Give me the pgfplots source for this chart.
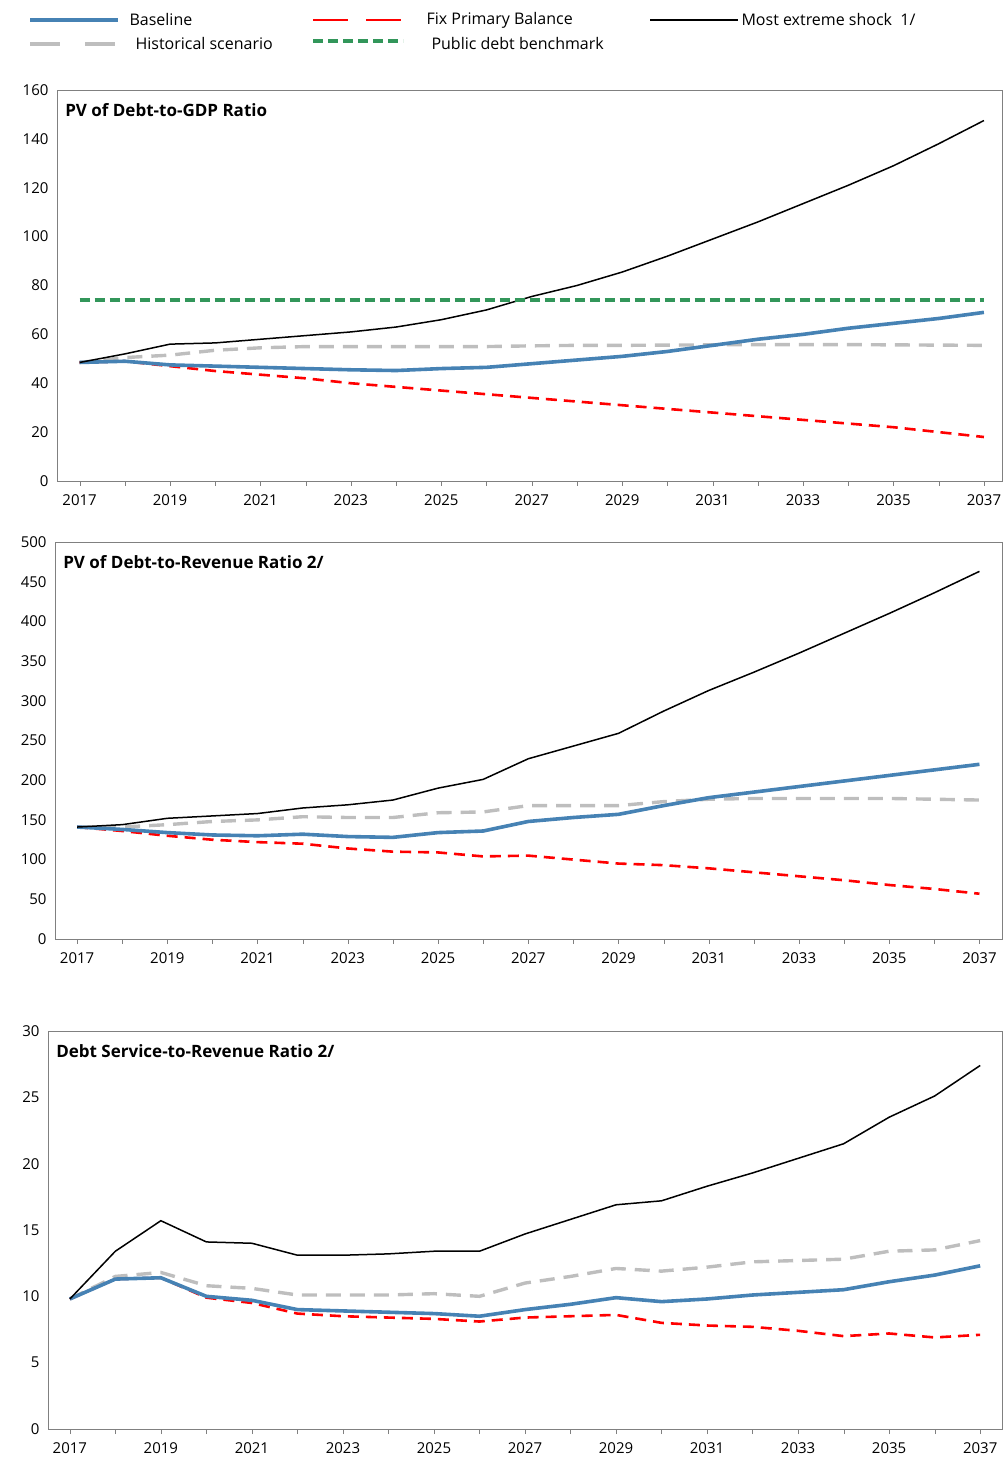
\documentclass[border=0pt]{standalone}
\usepackage{pgfplots}
\pgfplotsset{compat=1.18}
\usepackage{fontspec}
\setmainfont{Open Sans}
\definecolor{base}{RGB}{70,130,180}
\definecolor{fpb}{RGB}{255,0,0}
\definecolor{hist}{RGB}{190,190,190}
\definecolor{bench}{RGB}{50,150,90}
\tikzset{
 bl/.style={base, line width=3.6pt},
 fp/.style={fpb, line width=2.6pt, dash pattern=on 11pt off 7pt},
 hs/.style={hist, line width=3.4pt, dash pattern=on 15pt off 9pt},
 ex/.style={black, line width=1.5pt},
 bm/.style={bench, line width=4.2pt, dash pattern=on 10pt off 5pt},
}
\pgfplotsset{
 every axis/.append style={scale only axis, anchor=south west,
  /pgf/number format/assume math mode=true,
  tick label style={font=\fontsize{15}{17}\selectfont},
  xtick={2017,2019,...,2037}, minor xtick={2018,2020,...,2036},
  x tick label style={/pgf/number format/1000 sep={}, yshift=-5pt},
  tick align=outside, tick pos=left, axis line style={gray}, tick style={gray},
  major tick length=5pt, minor tick length=5pt,
  ytick style={draw=none}, clip=false},
}
\newcommand{\ttl}[1]{\node[anchor=north west, font=\bfseries\fontsize{17}{19}\selectfont] at (rel axis cs:0.005,0.975) {#1};}
\newcommand{\lt}{\fontsize{16}{18}\selectfont}
\begin{document}
\begin{tikzpicture}
\useasboundingbox (0pt,0pt) rectangle (1007pt,1462pt);
% legend
\draw[bl] (30pt,1442pt) -- (118pt,1442pt); \node[anchor=west,font=\lt] at (126pt,1442pt) {Baseline};
\draw[hs, dash pattern=on 30pt off 25pt] (30pt,1418pt) -- (118pt,1418pt); \node[anchor=west,font=\lt] at (132pt,1418pt) {Historical scenario};
\draw[fp, dash pattern=on 35pt off 18pt] (313pt,1442pt) -- (403pt,1442pt); \node[anchor=west,font=\lt] at (423pt,1442pt) {Fix Primary Balance};
\draw[bm] (313pt,1421pt) -- (403pt,1421pt); \node[anchor=west,font=\lt] at (428pt,1418pt) {Public debt benchmark};
\draw[ex] (650pt,1442pt) -- (738pt,1442pt); \node[anchor=west,font=\lt] at (738pt,1442pt) {Most extreme shock~ 1/};

\begin{axis}[at={(57pt,981pt)}, width=945pt, height=391pt, xmin=2016.5, xmax=2037.4, ymin=0, ymax=160, ytick={0,20,...,160}]
\addplot[hs] coordinates {(2017,48.5)(2018,50.5)(2019,51.5)(2020,53.5)(2021,54.5)(2022,55)(2023,55)(2024,55)(2025,55)(2026,55)(2027,55.3)(2028,55.5)(2029,55.5)(2030,55.6)(2031,55.7)(2032,55.8)(2033,55.8)(2034,55.8)(2035,55.7)(2036,55.6)(2037,55.5)};
\addplot[fp] coordinates {(2017,48.5)(2018,49)(2019,47)(2020,45)(2021,43.5)(2022,42)(2023,40)(2024,38.5)(2025,37)(2026,35.5)(2027,34)(2028,32.5)(2029,31)(2030,29.5)(2031,28)(2032,26.5)(2033,25)(2034,23.5)(2035,22)(2036,20)(2037,18)};
\addplot[bl] coordinates {(2017,48.5)(2018,49)(2019,47.5)(2020,47)(2021,46.5)(2022,46)(2023,45.5)(2024,45.2)(2025,46)(2026,46.5)(2027,48)(2028,49.5)(2029,51)(2030,53)(2031,55.5)(2032,58)(2033,60)(2034,62.5)(2035,64.5)(2036,66.5)(2037,69)};
\addplot[ex] coordinates {(2017,48.5)(2018,52)(2019,56)(2020,56.5)(2021,58)(2022,59.5)(2023,61)(2024,63)(2025,66)(2026,70)(2027,75.5)(2028,80)(2029,85.5)(2030,92)(2031,99)(2032,106)(2033,113.5)(2034,121)(2035,129)(2036,138)(2037,147.5)};
\addplot[bm] coordinates {(2017,74)(2037,74)};
\ttl{PV of Debt-to-GDP Ratio}
\end{axis}

\begin{axis}[at={(55pt,523pt)}, width=947pt, height=397pt, xmin=2016.51, xmax=2037.5, ymin=0, ymax=500, ytick={0,50,...,500}]
\addplot[hs] coordinates {(2017,141)(2018,141)(2019,144)(2020,148)(2021,150)(2022,154)(2023,153)(2024,153)(2025,159)(2026,160)(2027,168)(2028,168)(2029,168)(2030,173)(2031,176)(2032,177)(2033,177)(2034,177)(2035,177)(2036,176)(2037,175)};
\addplot[fp] coordinates {(2017,141)(2018,136)(2019,130)(2020,125)(2021,122)(2022,120)(2023,114)(2024,110)(2025,109)(2026,104)(2027,105)(2028,100)(2029,95)(2030,93)(2031,89)(2032,84)(2033,79)(2034,74)(2035,68)(2036,63)(2037,57)};
\addplot[bl] coordinates {(2017,141)(2018,138)(2019,134)(2020,131)(2021,130)(2022,132)(2023,129)(2024,128)(2025,134)(2026,136)(2027,148)(2028,153)(2029,157)(2030,168)(2031,178)(2032,185)(2033,192)(2034,199)(2035,206)(2036,213)(2037,220)};
\addplot[ex] coordinates {(2017,141)(2018,144)(2019,152)(2020,155)(2021,158)(2022,165)(2023,169)(2024,175)(2025,190)(2026,201)(2027,227)(2028,243)(2029,259)(2030,287)(2031,313)(2032,336)(2033,360)(2034,385)(2035,410)(2036,436)(2037,463)};
\ttl{PV of Debt-to-Revenue Ratio 2/}
\end{axis}

\begin{axis}[at={(48pt,33pt)}, width=954pt, height=398pt, xmin=2016.52, xmax=2037.48, ymin=0, ymax=30, ytick={0,5,...,30}]
\addplot[hs] coordinates {(2017,9.8)(2018,11.5)(2019,11.8)(2020,10.8)(2021,10.6)(2022,10.1)(2023,10.1)(2024,10.1)(2025,10.2)(2026,10)(2027,11)(2028,11.5)(2029,12.1)(2030,11.9)(2031,12.2)(2032,12.6)(2033,12.7)(2034,12.8)(2035,13.4)(2036,13.5)(2037,14.2)};
\addplot[fp] coordinates {(2017,9.8)(2018,11.3)(2019,11.4)(2020,9.9)(2021,9.5)(2022,8.7)(2023,8.5)(2024,8.4)(2025,8.3)(2026,8.1)(2027,8.4)(2028,8.5)(2029,8.6)(2030,8)(2031,7.8)(2032,7.7)(2033,7.4)(2034,7)(2035,7.2)(2036,6.9)(2037,7.1)};
\addplot[bl] coordinates {(2017,9.8)(2018,11.3)(2019,11.4)(2020,10)(2021,9.7)(2022,9)(2023,8.9)(2024,8.8)(2025,8.7)(2026,8.5)(2027,9)(2028,9.4)(2029,9.9)(2030,9.6)(2031,9.8)(2032,10.1)(2033,10.3)(2034,10.5)(2035,11.1)(2036,11.6)(2037,12.3)};
\addplot[ex] coordinates {(2017,9.8)(2018,13.4)(2019,15.7)(2020,14.1)(2021,14)(2022,13.1)(2023,13.1)(2024,13.2)(2025,13.4)(2026,13.4)(2027,14.7)(2028,15.8)(2029,16.9)(2030,17.2)(2031,18.3)(2032,19.3)(2033,20.4)(2034,21.5)(2035,23.5)(2036,25.1)(2037,27.4)};
\ttl{Debt Service-to-Revenue Ratio 2/}
\end{axis}
\end{tikzpicture}
\end{document}
